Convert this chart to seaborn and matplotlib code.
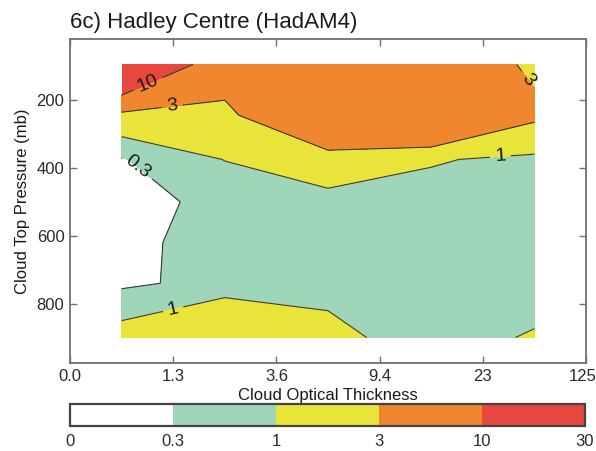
import numpy as np
import pandas as pd
import seaborn as sns
import matplotlib
matplotlib.use("Agg")
import matplotlib.pyplot as plt
import matplotlib.transforms as mtransforms
from matplotlib.colors import ListedColormap, BoundaryNorm
import matplotlib.cm as mcm

# ---------------- data ----------------
tau_labels = ["0.0", "1.3", "3.6", "9.4", "23", "125"]
pressure_levels = [95, 245, 375, 500, 620, 740, 900]

# cloud fraction (%) at each pressure level, one value per optical-thickness bin
row_p095 = [22.6, 4.42, 6.0, 4.85, 2.62]
row_p245 = [1.7, 2.4, 6.76, 7.83, 3.43]
row_p375 = [0.25, 1.02, 2.0, 1.12, 0.67]
row_p500 = [0.05, 0.49, 0.53, 0.47, 0.6]
row_p620 = [0.05, 0.675, 0.7, 0.7, 0.7]
row_p740 = [0.18, 0.5, 0.755, 0.6, 0.54]
row_p900 = [1.37, 2.39, 1.24, 0.6, 1.09]

contour_levels = [0.3, 1, 3, 10, 30]
cbar_bounds = [0, 0.3, 1, 3, 10, 30]
cbar_labels = ["0", "0.3", "1", "3", "10", "30"]

title = "6c) Hadley Centre (HadAM4)"
xlabel = "Cloud Optical Thickness"
ylabel = "Cloud Top Pressure (mb)"

# ---------------- style ----------------
sns.set_theme(style="ticks")
plt.rcParams["font.family"] = ["Liberation Sans", "DejaVu Sans"]

teal = "#9FD5B9"
yellow = "#E8E43A"
orange = "#F0872F"
red = "#E8473F"
fill_colors = [teal, yellow, orange, red]
frame_col = "#707070"

rows = [row_p095, row_p245, row_p375, row_p500, row_p620, row_p740, row_p900]
df = pd.DataFrame(rows, index=pressure_levels)
Z = df.values
tau_pos = np.arange(Z.shape[1]) + 0.5
X, P = np.meshgrid(tau_pos, df.index.values)

W, H = 596, 451
fig = plt.figure(figsize=(W / 100, H / 100), dpi=100)
ax = fig.add_axes([70 / W, 1 - 363 / H, 516 / W, 324 / H])

ax.contourf(X, P, Z, levels=contour_levels, colors=fill_colors)
cs = ax.contour(X, P, Z, levels=contour_levels[:-1], colors="#3a3a3a", linewidths=0.8)

ax.set_xlim(0, len(tau_labels) - 1)
ax.set_ylim(975, 20)

label_spots = [(0.73, 135), (0.99, 209), (0.65, 400), (4.17, 362), (4.46, 135), (0.99, 805)]
ax.clabel(cs, manual=label_spots, inline=True, fontsize=14,
          fmt={0.3: "0.3", 1: "1", 3: "3", 10: "10"}, colors="#1a1a1a")

ax.set_xticks(range(len(tau_labels)))
ax.set_xticklabels(tau_labels)
ax.set_yticks([200, 400, 600, 800])
ax.tick_params(direction="in", top=True, right=True, length=5, width=1,
               color=frame_col, labelsize=12, pad=4, labelcolor="#2a2a2a")
for s in ax.spines.values():
    s.set_color(frame_col)
    s.set_linewidth(1.3)

# keep the last tick label just inside the figure edge
last = ax.get_xticklabels()[-1]
last.set_transform(last.get_transform() +
                   mtransforms.ScaledTranslation(-3 / 100, 0, fig.dpi_scale_trans))

ax.set_title(title, loc="left", fontsize=16, pad=8, color="#1a1a1a")
ax.set_xlabel(xlabel, fontsize=12, labelpad=3, color="#1a1a1a")
ax.set_ylabel(ylabel, fontsize=12, labelpad=5, color="#1a1a1a")

# ---------------- colour bar ----------------
cax = fig.add_axes([70 / W, 1 - 426 / H, 515 / W, 22 / H])
cmap = ListedColormap(["white"] + fill_colors)
norm = BoundaryNorm(cbar_bounds, cmap.N)
cb = fig.colorbar(mcm.ScalarMappable(norm=norm, cmap=cmap), cax=cax,
                  orientation="horizontal", spacing="uniform", ticks=cbar_bounds)
cb.ax.set_xticklabels(cbar_labels)
cb.ax.tick_params(length=0, labelsize=12, pad=6, labelcolor="#2a2a2a")
cb.outline.set_edgecolor("#444444")
cb.outline.set_linewidth(1.6)

fig.savefig("out.png", dpi=100)
